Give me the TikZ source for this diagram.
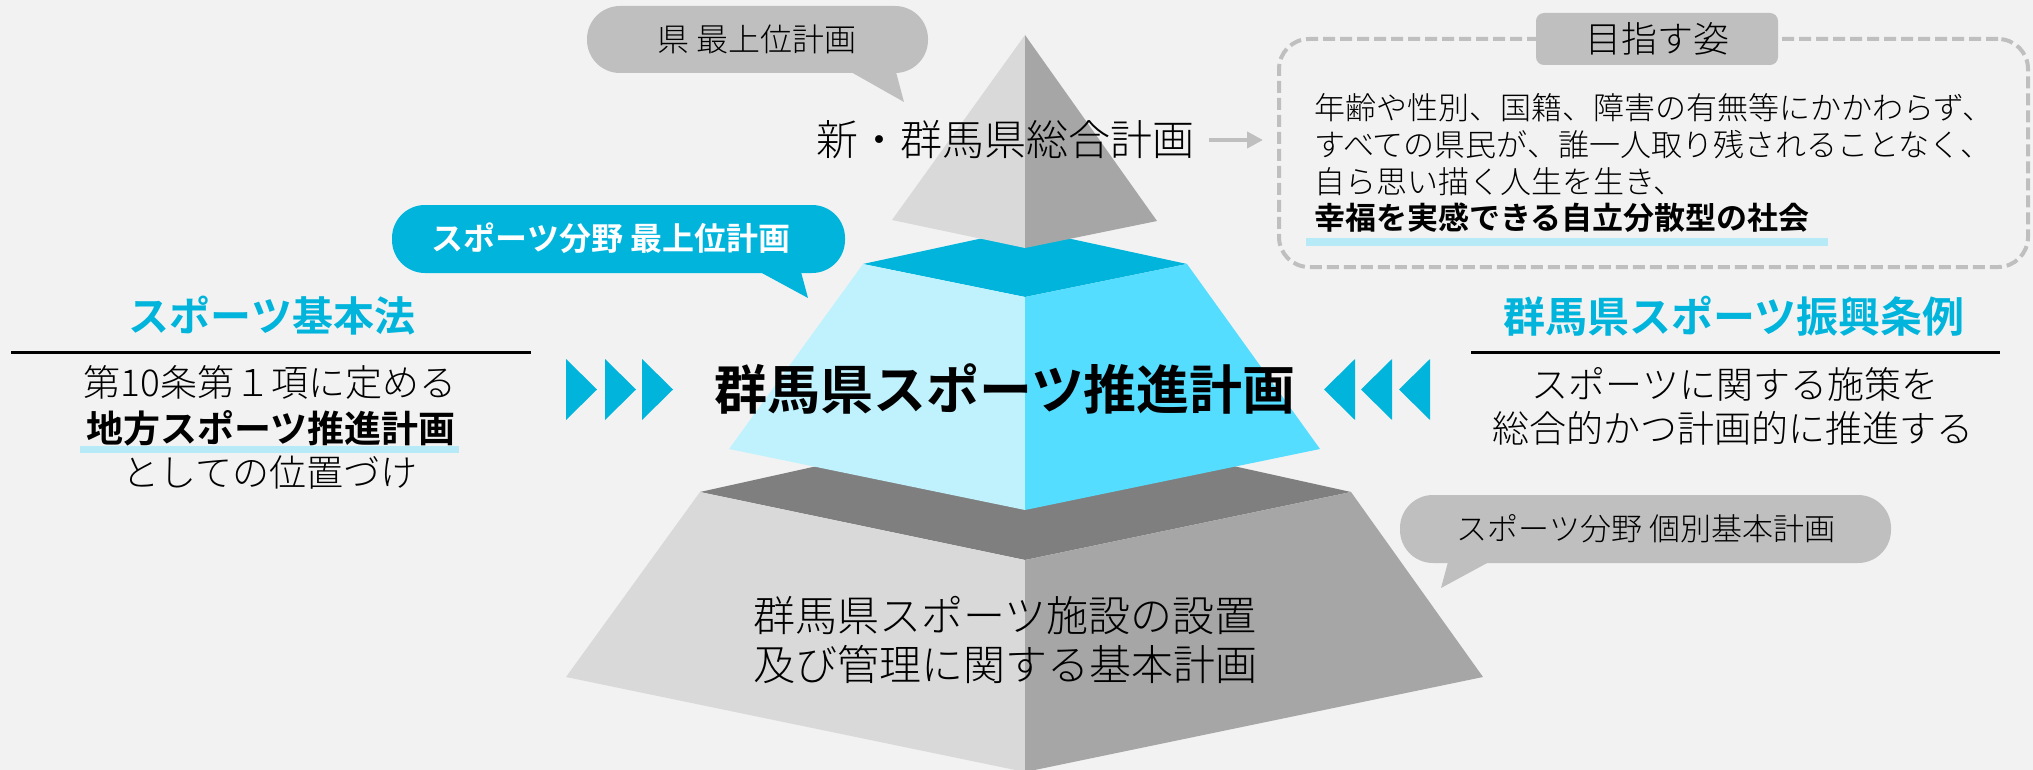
\documentclass[tikz,border=0pt]{standalone}
\usepackage{fontspec}
\setmainfont{Noto Sans CJK JP Light}[BoldFont={Noto Sans CJK JP Bold}]
\usetikzlibrary{arrows.meta}
\definecolor{bg}{HTML}{F2F2F2}
\definecolor{lgrey}{HTML}{D9D9D9}
\definecolor{mgrey}{HTML}{A6A6A6}
\definecolor{dgrey}{HTML}{7F7F7F}
\definecolor{bubgrey}{HTML}{BFBFBF}
\definecolor{cyanD}{HTML}{00B4DC}
\definecolor{cyanL}{HTML}{C0F2FE}
\definecolor{cyanM}{HTML}{55DDFF}
\definecolor{hilite}{HTML}{B5EAF6}
\newcommand{\myfs}[1]{\fontsize{#1}{#1}\selectfont}
\begin{document}
\begin{tikzpicture}[x=1pt,y=-1pt,
  txt/.style={inner sep=0pt, text=black},
  bub/.style={rounded corners=33pt},
  chev/.style={fill=cyanD},
  rule/.style={line width=3pt, black},
  hl/.style={fill=hilite},
  arr/.style={draw=bubgrey, line width=4pt, -{Triangle[length=16pt,width=16pt]}}]
\useasboundingbox (0,0) rectangle (2033,770);
\fill[bg] (0,0) rectangle (2033,770);

% bottom tier
\fill[dgrey] (700,492) -- (1025,420) -- (1351,492) -- (1025,560) -- cycle;
\fill[lgrey] (700,492) -- (1025,560) -- (1025,772) -- (566,677) -- cycle;
\fill[mgrey] (1025,560) -- (1351,492) -- (1483,677) -- (1025,772) -- cycle;

% middle tier
\fill[cyanD] (863,264) -- (1025,229) -- (1187,264) -- (1025,297) -- cycle;
\fill[cyanL] (863,264) -- (1025,297) -- (1025,510) -- (729,449) -- cycle;
\fill[cyanM] (1025,297) -- (1187,264) -- (1320,449) -- (1025,510) -- cycle;

% top pyramid
\fill[lgrey] (1025,35) -- (892,220) -- (1025,248) -- cycle;
\fill[mgrey] (1025,35) -- (1157,221) -- (1025,248) -- cycle;

% texts on pyramid
\node[txt] (gen) at (1005,140) {\myfs{42}新・群馬県総合計画};
\node[txt] (main) at (1005,389) {\myfs{53}\bfseries 群馬県スポーツ推進計画};
\node[txt, align=center] (facil) at (1005,640) {\myfs{42}群馬県スポーツ施設の設置\\[10pt]\myfs{42}及び管理に関する基本計画};

% bubbles
\fill[bubgrey, bub] (587,6) rectangle (928,73);
\fill[bubgrey] (851,72) -- (896,72) -- (904,102) -- cycle;
\node[txt] (b1) at (757,39) {\myfs{32}県 最上位計画};

\fill[cyanD, bub] (392,205) rectangle (845,273);
\fill[cyanD] (760,272) -- (801,272) -- (808,298) -- cycle;
\node[txt, text=white] (b2) at (611,238) {\myfs{32}\bfseries スポーツ分野 最上位計画};

\fill[bubgrey, bub] (1400,495) rectangle (1891,563);
\fill[bubgrey] (1448,562) -- (1489,562) -- (1441,588) -- cycle;
\node[txt] (b3) at (1646,529) {\myfs{31}スポーツ分野 個別基本計画};

% vision box
\node[draw=bubgrey, dash pattern=on 12pt off 5pt, line width=4pt, rounded corners=30pt,
      minimum width=749pt, minimum height=228pt, inner sep=0pt] (vision) at (1653.5,153) {};
\fill[bubgrey, rounded corners=8pt] (1536,13) rectangle (1778,65);
\node[txt] (vtitle) at (1657,39) {\myfs{36}目指す姿};
\node[txt, anchor=west] (v1) at (1314,108) {\myfs{31}年齢や性別、国籍、障害の有無等にかかわらず、};
\node[txt, anchor=west] (v2) at (1314,145) {\myfs{31}すべての県民が、誰一人取り残されることなく、};
\node[txt, anchor=west] (v3) at (1314,182) {\myfs{31}自ら思い描く人生を生き、};
\fill[hl] (1306,238) rectangle (1828,246);
\node[txt, anchor=west] (v4) at (1314,218) {\myfs{31}\bfseries 幸福を実感できる自立分散型の社会};
\draw[arr, shorten <=15pt, shorten >=14pt] (gen.east) -- (gen.east -| vision.west);

% left block
\node[txt, text=cyanD] (lawT) at (272,316) {\myfs{41}\bfseries スポーツ基本法};
\draw[rule] (11,352) -- (531,352);
\node[txt] (law1) at (270,382) {\myfs{37}第10条第１項に定める};
\fill[hl] (80,446) rectangle (459,453);
\node[txt] (law2) at (271,428) {\myfs{37}\bfseries 地方スポーツ推進計画};
\node[txt] (law3) at (270,473) {\myfs{37}としての位置づけ};

% right block
\node[txt, text=cyanD] (ordT) at (1734,316) {\myfs{42}\bfseries 群馬県スポーツ振興条例};
\draw[rule] (1471,352) -- (2000,352);
\node[txt] (ord1) at (1735,384) {\myfs{37}スポーツに関する施策を};
\node[txt] (ord2) at (1733,428) {\myfs{37}総合的かつ計画的に推進する};

% chevrons
\foreach \x in {566,605,642} {\fill[chev] (\x,359) -- (\x,420) -- (\x+31,389.5) -- cycle;}
\foreach \x in {1355,1392,1430} {\fill[chev] (\x,359) -- (\x,420) -- (\x-31,389.5) -- cycle;}
\end{tikzpicture}
\end{document}
